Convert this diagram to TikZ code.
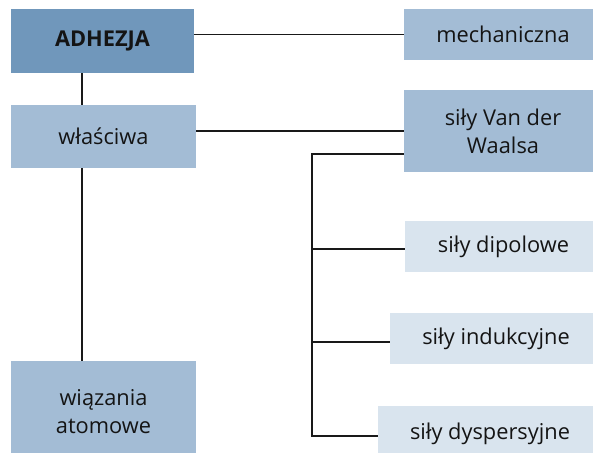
\documentclass[tikz,border=0pt]{standalone}
\usepackage{fontspec}
\setmainfont{Open Sans}
\definecolor{cdark}{HTML}{7097BB}
\definecolor{cmid}{HTML}{A3BCD5}
\definecolor{clight}{HTML}{D9E4EE}
\definecolor{ctext}{HTML}{141414}
\begin{document}
\begin{tikzpicture}[x=1pt,y=-1pt,
  box/.style={rectangle, inner sep=0pt, align=center, text=ctext, font=\fontsize{21.8}{28}\selectfont},
  conn/.style={draw=black!90, line width=1.4pt}]
\clip (0,0) rectangle (593,452);
\fill[white] (0,0) rectangle (593,452);
\node[box, fill=cdark, minimum width=183, minimum height=64, font=\fontsize{21.8}{28}\selectfont\bfseries] (adh) at (102.5,41) {ADHEZJA};
\node[box, fill=cmid, minimum width=185, minimum height=63] (wla) at (103.5,136.5) {właściwa};
\node[box, fill=cmid, minimum width=185, minimum height=101] (wia) at (103.5,411.5) {wiązania\\atomowe};
\node[box, fill=cmid, minimum width=198, minimum height=51] (mech) at (503,34.5) {mechaniczna};
\node[box, fill=cmid, minimum width=198, minimum height=82] (vdw) at (503,131) {siły Van der\\Waalsa};
\node[box, fill=clight, minimum width=197, minimum height=51] (dip) at (503.5,246.5) {siły dipolowe};
\node[box, fill=clight, minimum width=212, minimum height=51] (ind) at (496,338.5) {siły indukcyjne};
\node[box, fill=clight, minimum width=224, minimum height=56] (dys) at (490,434) {siły dyspersyjne};
\coordinate (spine) at (82,0);
\coordinate (br) at (312,154);
\draw[conn] (mech.west -| adh.east) -- (mech.west);
\draw[conn] (adh.south -| spine) -- (wla.north -| spine);
\draw[conn] (wla.south -| spine) -- (wia.north -| spine);
\draw[conn] (vdw.west -| wla.east) -- (vdw.west);
\draw[conn] ([yshift=-23pt]vdw.west) -- (br) -- ([yshift=-2pt]br |- dys.west) -- ([yshift=-2pt]dys.west);
\draw[conn] ([yshift=-2.5pt]br |- dip.west) -- ([yshift=-2.5pt]dip.west);
\draw[conn] ([yshift=-3.5pt]br |- ind.west) -- ([yshift=-3.5pt]ind.west);
\end{tikzpicture}
\end{document}
